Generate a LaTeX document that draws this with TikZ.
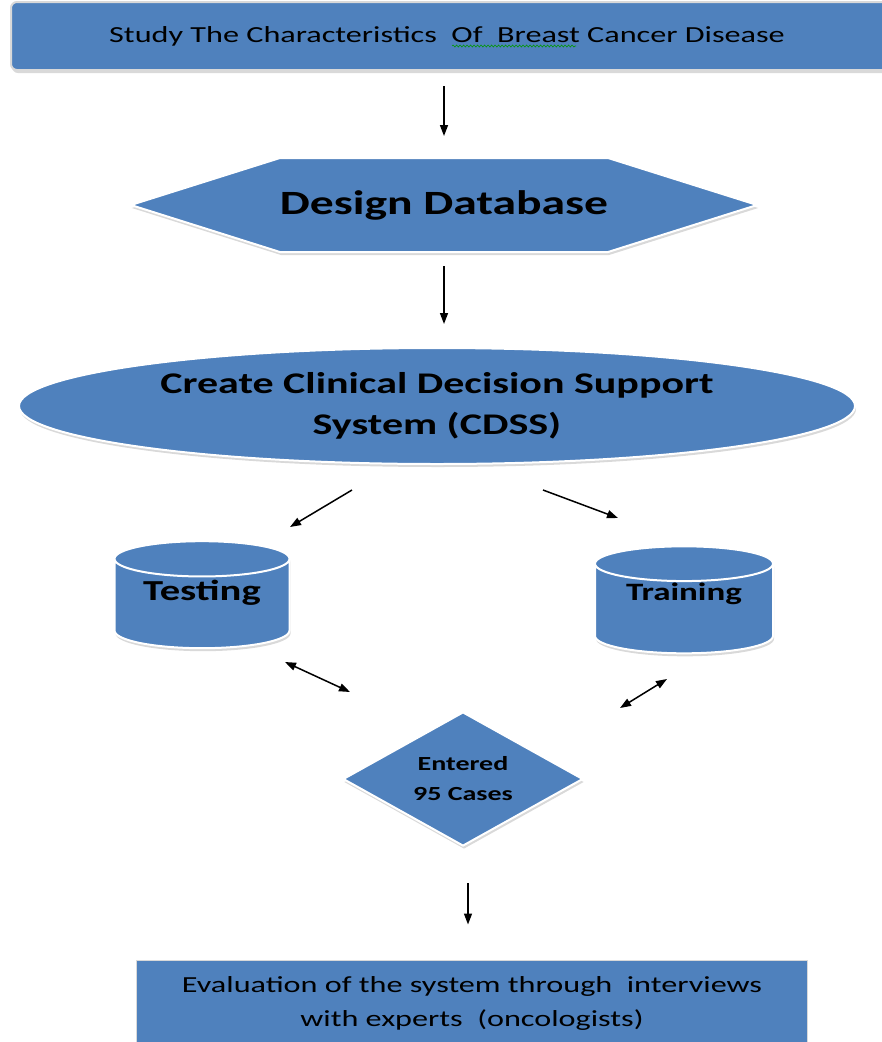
\documentclass[tikz,border=0pt]{standalone}
\usepackage{fontspec}
\setmainfont[FakeStretch=1.4]{Carlito}
\usetikzlibrary{shapes.geometric,shapes.symbols,shadows,arrows.meta,decorations.pathmorphing}
\definecolor{boxblue}{RGB}{79,129,189}
\definecolor{capblue}{RGB}{120,159,207}
\tikzset{
	flowshape/.style={fill=boxblue,draw=white,line width=2pt,inner sep=0pt,align=center,
		drop shadow={shadow xshift=1pt,shadow yshift=-3pt,opacity=0.3}},
	flowarrow/.style={-{Triangle[length=11pt,width=8pt]},line width=1.5pt},
	twoway/.style={{Triangle[length=11pt,width=8pt]}-{Triangle[length=11pt,width=8pt]},line width=1.5pt},
	dbcyl/.style={flowshape,cylinder,shape border rotate=90,aspect=0.3,
		cylinder uses custom fill,cylinder body fill=boxblue,cylinder end fill=capblue}
}
\begin{document}
\begin{tikzpicture}[x=1pt,y=-1pt]
	\useasboundingbox (0,0) rectangle (882,1042);
	%\draw[line width=0.2pt] (0,0) grid[step=50] (882,1042);
	\node[flowshape,draw=black!15,rounded corners=6pt,minimum width=884pt,minimum height=68pt,
		font=\fontsize{23}{28}\selectfont] (study) at (453,36)
		{\hspace*{-12pt}Study The Characteristics\ \ Of\ \ Breast Cancer\ Disease};
	\draw[green!60!black,line width=0.6pt,decorate,
		decoration={snake,segment length=3.5pt,amplitude=1pt}] (452,46)--(576,46);
	\node[flowshape,signal,signal to=east and west,signal pointer angle=35,
		minimum width=604pt,minimum height=94pt,
		font=\bfseries\fontsize{34}{40}\selectfont] (design) at (444,205) {Design Database};
	\node[flowshape,ellipse,minimum width=836pt,minimum height=116pt,
		font=\bfseries\fontsize{30}{41}\selectfont] (cdss) at (437,406)
		{Create Clinical Decision Support\\System (CDSS)};
	\node[dbcyl,minimum width=175pt,minimum height=107pt,text depth=28pt,
		font=\bfseries\fontsize{29}{34}\selectfont] (testing) at (202,604) {Testing};
	\node[dbcyl,minimum width=178pt,minimum height=107pt,text depth=34pt,
		font=\bfseries\fontsize{25}{30}\selectfont] (training) at (684,609) {Training};
	\node[flowshape,diamond,aspect=1.79,minimum width=240pt,minimum height=134pt,
		font=\bfseries\fontsize{20}{30}\selectfont] (cases) at (463,779) {Entered\\95 Cases};
	\node[fill=boxblue,draw=black!15,line width=1pt,minimum width=671pt,minimum height=86pt,
		inner sep=0pt,align=center,font=\fontsize{23}{34}\selectfont] (eval) at (472,1003)
		{Evaluation of the system through\ \ interviews\\with experts\ \ (oncologists)};
	% free ends of the slanted arrows
	\coordinate (cl) at (352,490);
	\coordinate (tl) at (290,527);
	\coordinate (cr) at (543,490);
	\coordinate (tr) at (618,518);
	\coordinate (tb) at (285,662);
	\coordinate (el) at (350,692);
	\coordinate (rb) at (667,679);
	\coordinate (er) at (620,708);
	\draw[flowarrow,shorten <=15pt,shorten >=21pt] (study.south -| design.north)--(design.north);
	\draw[flowarrow,shorten <=13pt,shorten >=23pt] (design.south)--(design.south |- cdss.north);
	\draw[flowarrow] (cl)--(tl);
	\draw[flowarrow] (cr)--(tr);
	\draw[twoway] (tb)--(el);
	\draw[twoway] (rb)--(er);
	\draw[flowarrow,shorten <=36pt,shorten >=35pt] (cases.south -| 468,0)--(eval.north -| 468,0);
\end{tikzpicture}
\end{document}
